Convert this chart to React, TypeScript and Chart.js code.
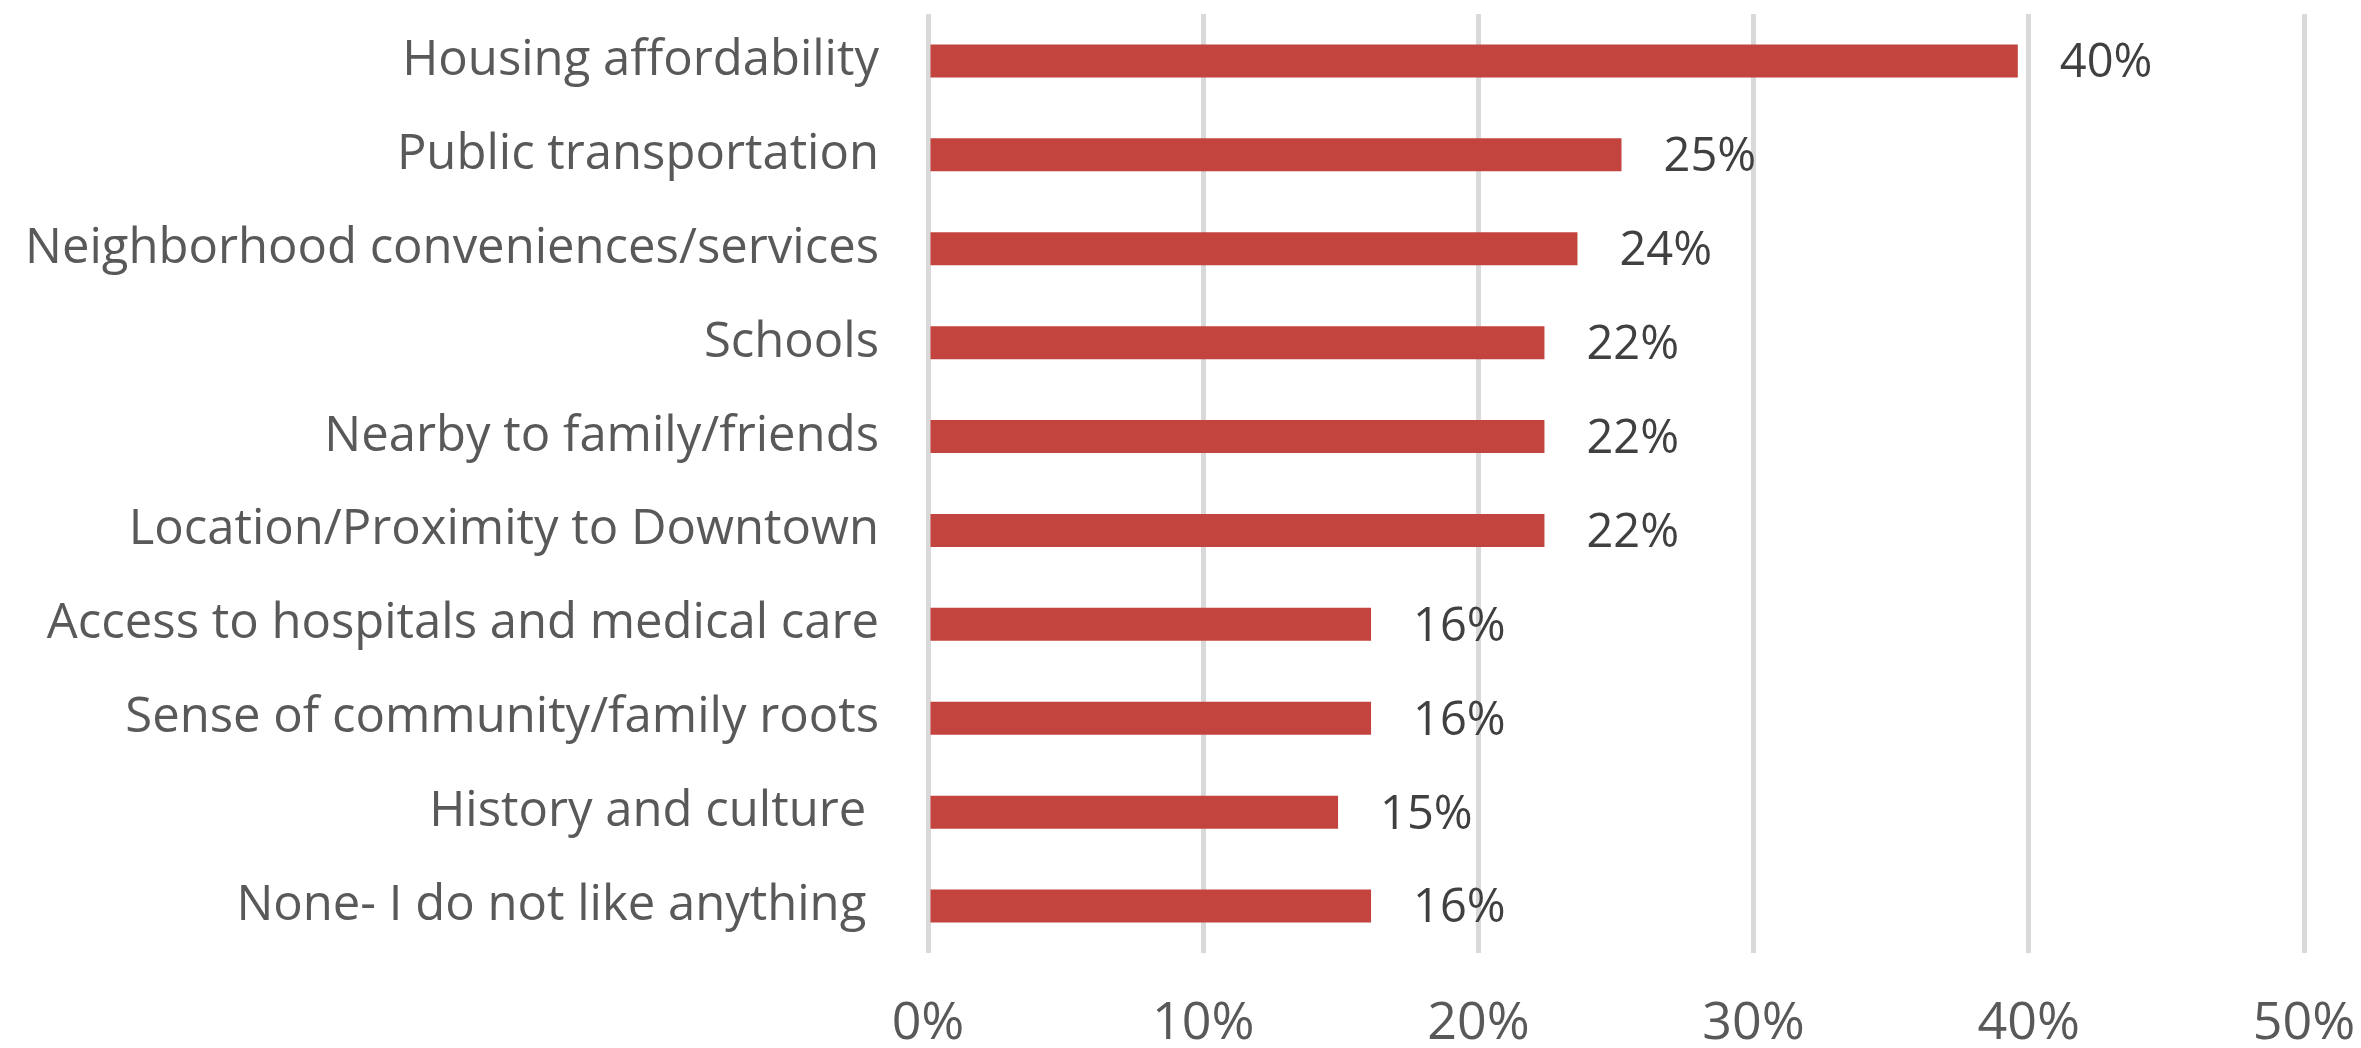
import React, { useEffect, useRef } from "react";
import { Chart, registerables } from "chart.js";

Chart.register(...registerables);

const categories = [
  "Housing affordability",
  "Public transportation",
  "Neighborhood conveniences/services",
  "Schools",
  "Nearby to family/friends",
  "Location/Proximity to Downtown",
  "Access to hospitals and medical care",
  "Sense of community/family roots",
  "History and culture ",
  "None- I do not like anything ",
];

const values = [39.6, 25.2, 23.6, 22.4, 22.4, 22.4, 16.1, 16.1, 14.9, 16.1];

const xTicks = [0, 10, 20, 30, 40, 50];

const FONT = "'Open Sans', Lato, sans-serif";

export default function App() {
  const ref = useRef<HTMLCanvasElement | null>(null);

  useEffect(() => {
    document.body.style.margin = "0";
    const canvas = ref.current;
    if (!canvas) return;

    const labelPlugin = {
      id: "valueLabels",
      afterDatasetsDraw(chart: any) {
        const ctx = chart.ctx;
        const meta = chart.getDatasetMeta(0);
        ctx.save();
        ctx.font = `400 47px ${FONT}`;
        ctx.fillStyle = "#404040";
        ctx.textAlign = "left";
        ctx.textBaseline = "middle";
        meta.data.forEach((bar: any, i: number) => {
          ctx.fillText(`${Math.round(values[i])}%`, bar.x + 42, bar.y + 3);
        });
        ctx.restore();
      },
    };

    const zeroPad = (scale: any) => {
      scale.paddingTop = 0;
      scale.paddingBottom = 0;
      scale.paddingLeft = 0;
      scale.paddingRight = 0;
    };

    const chart = new Chart(canvas, {
      type: "bar",
      data: {
        labels: categories,
        datasets: [
          {
            data: values,
            backgroundColor: "#c3443e",
            borderWidth: 0,
            barPercentage: 0.351,
            categoryPercentage: 1,
          },
        ],
      },
      options: {
        indexAxis: "y",
        animation: false,
        responsive: false,
        devicePixelRatio: 1,
        layout: { padding: { top: 14, right: 57, left: 0, bottom: 0 } },
        plugins: {
          legend: { display: false },
          tooltip: { enabled: false },
        },
        scales: {
          x: {
            min: 0,
            max: 50,
            afterBuildTicks(scale: any) {
              scale.ticks = xTicks.map((v) => ({ value: v }));
            },
            afterFit(scale: any) {
              scale.height = 95;
              zeroPad(scale);
            },
            grid: {
              color: "#d9d9d9",
              lineWidth: 5,
              drawTicks: false,
            },
            border: { display: false },
            ticks: {
              padding: 40,
              color: "#595959",
              font: { family: FONT, size: 52, weight: "400" },
              maxRotation: 0,
              callback: (v: any) => `${v}%`,
            },
          },
          y: {
            afterFit(scale: any) {
              scale.width = 928;
              zeroPad(scale);
            },
            grid: { display: false, drawTicks: false },
            border: { display: false },
            ticks: {
              padding: 49,
              color: "#595959",
              font: { family: FONT, size: 49, weight: "400" },
              autoSkip: false,
            },
          },
        },
      },
      plugins: [labelPlugin],
    });

    return () => chart.destroy();
  }, []);

  return (
    <div style={{ width: 2361, height: 1048 }}>
      <canvas ref={ref} width={2361} height={1048} style={{ display: "block" }} />
    </div>
  );
}
